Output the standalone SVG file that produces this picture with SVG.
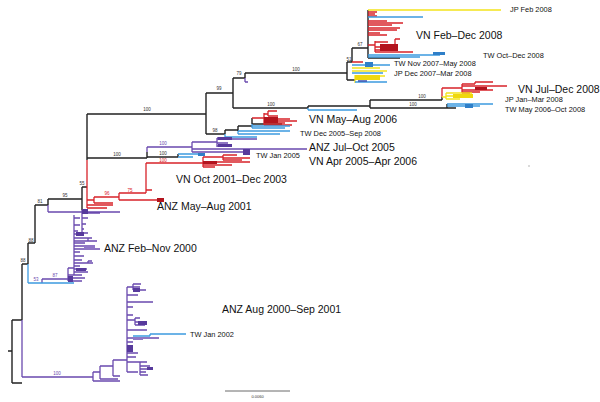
<svg xmlns="http://www.w3.org/2000/svg" width="600" height="402" viewBox="0 0 600 402">
<style>
.k{fill:none;stroke:#222;stroke-width:1.4}
.p{fill:none;stroke:#6a4aae;stroke-width:1.3}
.r{fill:none;stroke:#d8232a;stroke-width:1.3}
.b{fill:none;stroke:#3d9ae0;stroke-width:1.3}
.y{fill:none;stroke:#f4e41c;stroke-width:1.3}
.dp{fill:#573a9c}.lp{fill:#8f76c6}.dr{fill:#b3141e}.db{fill:#2f7fc8}.dy{fill:#efd80e}
text{font-family:"Liberation Sans",Arial,sans-serif;fill:#111}
.big{font-size:10.5px}
.sm{font-size:7.4px}
.s{font-size:4.5px;text-anchor:middle;fill:#333}
.sp{fill:#6a4aae}.sr{fill:#d8232a}
</style>
<rect width="600" height="402" fill="#fff"/>
<g id="connectors">
<path class="k" d="M8,351H12M12,320V383M12,320H22M12,383H22M22,264V320M22,264H28M28,243V264M28,243H35M35,205V243M35,205H48M48,199V205M48,199H82M82,187V210M82,187H87M87,114V160M87,114H206M87,158H147M147,152V158M147,157H178M178,154V157M206,93V134M206,93H233M233,78V108M233,78H245M245,73V78M245,73H347M233,108H308M308,106V108M308,106H370M370,100V108M370,100H442M370,108H447M442,97V100M447,104V108M447,108H456M347,62V80M347,62H352M347,80H355M352,48V62M352,48H368M368,10V58M368,58H400M206,134H225M225,130V134M225,130H238M238,126V131M238,126H252M252,118V124M252,124H282"/>
<path class="p" d="M22,320V377M22,377H93M93,372V381M93,372H100M93,381H120M100,366V379M100,366H113M100,379H118M113,360V376M113,360H127M113,376H120M127,287V372M127,287H140M133,284V290M133,284H141M133,290H146M127,295H138M127,302H153M127,307H133M127,315H133M127,320H135M135,318V325M135,318H140M135,322H147M135,325H145M127,330H147M127,338H159M127,342H133M127,353H138M127,357H136M127,362H147M140,362V375M140,366H150M140,369H153M140,372H146M140,375H148M127,372H138M42,279V283M42,279H68M68,268V281M68,268H74M68,275H80M68,278H85M68,281H82M74,215V275M74,218H80M74,225H80M74,231H78M74,234H84M74,238H90M74,241H97M88,238V241M88,238H92M74,243H85M74,246H95M74,249H100M74,252H80M74,256H84M74,260H82M74,263H93M88,261V263M88,261H92M74,266H80M74,269H87M74,272H88M74,275H82M82,210V233M82,213H100M82,218H88M82,224H86M82,229H84M82,233H88M48,205V212M48,212H120M147,147V152M147,147H192M192,142V152M192,142H217M217,138V147M217,138H232M217,139H257M217,143H228M217,146H232M192,149H307M192,152H244M245,78V82M245,82H248"/>
<path class="r" d="M87,160V208M87,200H94M87,205H113M87,208H107M94,197V203M94,197H119M94,203H113M119,193V200M119,193H146M119,200H157M146,163V193M146,163H203M146,190H152M203,157V167M203,157H223M223,155V160M223,155H237M223,158H250M223,160H242M203,162H250M203,165H232M203,167H215M252,118H264M264,113V125M264,114H268M268,111V116M268,111H277M268,116H278M264,119H290M264,121H297M264,123H285M264,125H292M352,62H363M368,12H377M368,14H375M368,16H377M368,21H387M368,23H403M368,25H392M368,28H400M368,30H397M368,33H380M368,35H387M368,45H375M375,41V52M375,42H388M375,47H395M395,39V47M395,39H400M375,50H393M375,52H413M442,88V97M442,88H462M462,84V93M462,86H507M462,84H475M475,82V84M475,82H493M462,90H493M462,92H480M462,93H470"/>
<path class="y" d="M368,10H501M352,68H380M352,71H387M355,75V83M355,76H385M355,78H380M442,97H446M446,93V99M446,93H472M446,96H467M446,99H460"/>
<path class="b" d="M28,264V283M28,283H74M133,336H150M150,334V336M150,334H186M178,154H198M178,157H193M225,134V137M225,137H257M238,131V134M238,131H290M238,134H280M252,124V128M252,126H290M252,128H285M308,108V110M308,110H357M447,104H493M447,106H480M368,17H423M368,55H440M368,57H420M352,65H390M352,73H383M355,82H387"/>
<rect class="dp" x="133" y="288" width="7" height="4"/>
<rect class="dp" x="138" y="321" width="9" height="4"/>
<rect class="dp" x="127" y="345" width="6" height="7"/>
<rect class="dp" x="147" y="367" width="6" height="3"/>
<rect class="lp" x="133" y="337" width="10" height="3"/>
<rect class="dp" x="76" y="232" width="8" height="4"/>
<rect class="lp" x="84" y="245" width="11" height="4"/>
<rect class="dp" x="76" y="268" width="10" height="3"/>
<rect class="dp" x="68" y="276" width="5" height="6"/>
<rect class="dp" x="82" y="209" width="6" height="5"/>
<rect class="dp" x="218" y="137" width="14" height="3"/>
<rect class="dp" x="218" y="144" width="14" height="3"/>
<rect class="dp" x="243" y="149" width="7" height="6"/>
<rect class="dr" x="157" y="198" width="7" height="4"/>
<rect class="dr" x="203" y="161" width="14" height="3"/>
<rect class="dr" x="264" y="117" width="14" height="6"/>
<rect class="dr" x="380" y="44" width="18" height="7"/>
<rect class="dr" x="475" y="87" width="12" height="3"/>
<rect class="db" x="198" y="153" width="7" height="3"/>
<rect class="db" x="465" y="104" width="8" height="4"/>
<rect class="db" x="433" y="52" width="12" height="3"/>
<rect class="db" x="365" y="62" width="8" height="5"/>
<rect class="dy" x="355" y="75" width="25" height="5"/>
<rect class="dy" x="453" y="94" width="20" height="4"/>
<path d="M358,81H367" stroke="#3a4fb0" stroke-width="1.5"/>
</g>
<g id="support">
<text class="s" x="147" y="111">100</text>
<text class="s" x="219" y="90">99</text>
<text class="s" x="239" y="75">79</text>
<text class="s" x="296" y="71">100</text>
<text class="s" x="349" y="61">51</text>
<text class="s" x="360" y="46">67</text>
<text class="s" x="271" y="106">100</text>
<text class="s" x="422" y="98">100</text>
<text class="s" x="413" y="106">100</text>
<text class="s" x="215" y="132">98</text>
<text class="s" x="117" y="156">100</text>
<text class="s sp" x="163" y="145">100</text>
<text class="s" x="163" y="155">100</text>
<text class="s sr" x="163" y="162">100</text>
<text class="s" x="82" y="185">55</text>
<text class="s" x="65" y="197">95</text>
<text class="s" x="40" y="203">81</text>
<text class="s" x="31" y="242">88</text>
<text class="s" x="23" y="262">88</text>
<text class="s sp" x="36" y="281">53</text>
<text class="s sp" x="55" y="277">87</text>
<text class="s sr" x="107" y="195">96</text>
<text class="s sr" x="130" y="192">75</text>
<text class="s sp" x="57" y="375">100</text>
</g>
<g id="n-jp-feb-2008"><text class="sm" x="510" y="12">JP Feb 2008</text></g>
<g id="n-vn-feb-dec-2008"><text class="big" x="416" y="39">VN Feb–Dec 2008</text></g>
<g id="n-tw-oct-dec-2008"><text class="sm" x="483" y="57.5">TW Oct–Dec 2008</text></g>
<g id="n-tw-nov-2007"><text class="sm" x="394" y="66">TW Nov 2007–May 2008</text></g>
<g id="n-jp-dec-2007"><text class="sm" x="394" y="76">JP Dec 2007–Mar 2008</text></g>
<g id="n-vn-jul-dec-2008"><text class="big" x="518" y="93">VN Jul–Dec 2008</text></g>
<g id="n-jp-jan-mar-2008"><text class="sm" x="505" y="102">JP Jan–Mar 2008</text></g>
<g id="n-tw-may-2006"><text class="sm" x="505" y="112">TW May 2006–Oct 2008</text></g>
<g id="n-vn-may-aug-2006"><text class="big" x="309" y="123">VN May–Aug 2006</text></g>
<g id="n-tw-dec-2005"><text class="sm" x="300" y="136">TW Dec 2005–Sep 2008</text></g>
<g id="n-anz-jul-oct-2005"><text class="big" x="309" y="151">ANZ Jul–Oct 2005</text></g>
<g id="n-tw-jan-2005"><text class="sm" x="256" y="158">TW Jan 2005</text></g>
<g id="n-vn-apr-2005"><text class="big" x="309" y="165">VN Apr 2005–Apr 2006</text></g>
<g id="n-vn-oct-2001"><text class="big" x="176" y="183">VN Oct 2001–Dec 2003</text></g>
<g id="n-anz-may-aug-2001"><text class="big" x="157" y="210">ANZ May–Aug 2001</text></g>
<g id="n-anz-feb-nov-2000"><text class="big" x="104" y="252">ANZ Feb–Nov 2000</text></g>
<g id="n-anz-aug-2000"><text class="big" x="222" y="313">ANZ Aug 2000–Sep 2001</text></g>
<g id="n-tw-jan-2002"><text class="sm" x="190" y="337">TW Jan 2002</text></g>
<g id="scale">
<path d="M225,391H290" stroke="#444" stroke-width="0.8"/>
<text x="257.5" y="398" style="font-size:4px;text-anchor:middle;fill:#333">0.0060</text>
</g>
<circle cx="529" cy="166" r="0.7" fill="#999"/>
</svg>
